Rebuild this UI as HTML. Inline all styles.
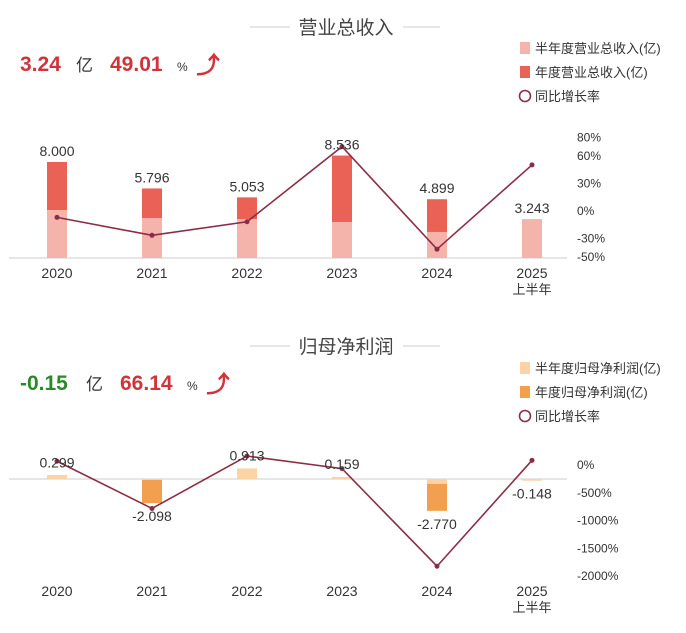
<!DOCTYPE html>
<html><head><meta charset="utf-8"><style>
body{margin:0;background:#fff;}
svg{display:block;font-family:"Liberation Sans","Noto Sans CJK SC",sans-serif;}
</style></head><body>
<svg id="svg" width="686" height="633" viewBox="0 0 686 633" xmlns="http://www.w3.org/2000/svg">
<g>
<line x1="250" y1="27" x2="290" y2="27" stroke="#ccc" stroke-width="1"/>
<line x1="403" y1="27" x2="440" y2="27" stroke="#ccc" stroke-width="1"/>
<text x="346" y="34" text-anchor="middle" font-size="19" fill="#444">营业总收入</text>
<text x="20" y="71" font-size="21" font-weight="bold" fill="#d0343a">3.24</text>
<text x="76" y="71" font-size="17" fill="#333">亿</text>
<text x="110" y="71" font-size="21" font-weight="bold" fill="#d0343a">49.01</text>
<text x="177" y="71" font-size="12" fill="#333">%</text>
<text x="196" y="73" font-size="24" font-weight="bold" fill="#d0343a">⤴</text>
<rect x="520" y="42" width="10" height="12" fill="#f4b3ab"/>
<text x="535" y="53" font-size="13" fill="#333">半年度营业总收入(亿)</text>
<rect x="520" y="66" width="10" height="12" fill="#ea6255"/>
<text x="535" y="77" font-size="13" fill="#333">年度营业总收入(亿)</text>
<circle cx="525" cy="96" r="5.5" fill="none" stroke="#8b2d45" stroke-width="1.6"/>
<text x="535" y="101" font-size="13" fill="#333">同比增长率</text>
</g>
<g>
<line x1="250" y1="346" x2="290" y2="346" stroke="#ccc" stroke-width="1"/>
<line x1="403" y1="346" x2="440" y2="346" stroke="#ccc" stroke-width="1"/>
<text x="346" y="353" text-anchor="middle" font-size="19" fill="#444">归母净利润</text>
<text x="20" y="390" font-size="21" font-weight="bold" fill="#2a8a2a">-0.15</text>
<text x="86" y="390" font-size="17" fill="#333">亿</text>
<text x="120" y="390" font-size="21" font-weight="bold" fill="#d0343a">66.14</text>
<text x="187" y="390" font-size="12" fill="#333">%</text>
<text x="206" y="392" font-size="24" font-weight="bold" fill="#d0343a">⤴</text>
<rect x="520" y="362" width="10" height="12" fill="#fbd3a6"/>
<text x="535" y="373" font-size="13" fill="#333">半年度归母净利润(亿)</text>
<rect x="520" y="386" width="10" height="12" fill="#f2a04f"/>
<text x="535" y="397" font-size="13" fill="#333">年度归母净利润(亿)</text>
<circle cx="525" cy="416" r="5.5" fill="none" stroke="#8b2d45" stroke-width="1.6"/>
<text x="535" y="421" font-size="13" fill="#333">同比增长率</text>
</g>
<g id="c1"></g>
<g id="c2"></g>
</svg>
<script>
const years = ["2020","2021","2022","2023","2024","2025"];
const revAnnual = [8.000,5.796,5.053,8.536,4.899,null];
const revHalf = [4.0,3.33,3.25,3.0,2.17,3.243];
const revLabels = ["8.000","5.796","5.053","8.536","4.899","3.243"];
const revYoy = [-8,-27.5,-12.8,68.9,-42.6,49.0];
const revTicks = [80,60,30,0,-30,-50];
const profAnnual = [0.299,-2.098,0.913,0.159,-2.770,null];
const profHalf = [0.35,-0.05,0.92,0.17,-0.43,-0.148];
const profLabels = ["0.299","-2.098","0.913","0.159","-2.770","-0.148"];
const profYoy = [50,-801,143,-83,-1842,66.14];
const profTicks = [0,-500,-1000,-1500,-2000];

const NS="http://www.w3.org/2000/svg";
function mk(tag,attrs,parent,txt){const e=document.createElementNS(NS,tag);for(const k in attrs)e.setAttribute(k,attrs[k]);if(txt!=null)e.textContent=txt;parent.appendChild(e);return e;}
const xc=i=>57+95*i;

function draw(g,cfg){
  mk('line',{x1:9,y1:cfg.base,x2:567,y2:cfg.base,stroke:'#ccc','stroke-width':1},g);
  cfg.ticks.forEach(t=>{
    const el=mk('text',{x:577,y:cfg.py(t)+5,'font-size':12,fill:'#333'},g,t+'%');
    
    
  });
  years.forEach((y,i)=>{
    const yt=mk('text',{x:xc(i),y:cfg.yearY,'text-anchor':'middle','font-size':14,fill:'#333'},g,y);
    
    
    if(i===5){const s=mk('text',{x:xc(i),y:cfg.yearY+16,'text-anchor':'middle','font-size':13,fill:'#333'},g,'上半年');
      
      }
    const bar=(v,col,nm)=>{if(v==null)return;const y0=cfg.by(v);const r=mk('rect',{x:xc(i)-10,y:Math.min(y0,cfg.base),width:20,height:Math.max(1,Math.abs(cfg.base-y0)),fill:col},g);
      
      };
    bar(cfg.annual[i],cfg.c2,'bar-annual-'+y);
    bar(cfg.half[i],cfg.c1,'bar-half-'+y);
  });
  const pts=cfg.yoy.map((v,i)=>xc(i)+','+cfg.py(v)).join(' ');
  const pl=mk('polyline',{points:pts,fill:'none',stroke:'#8b2d45','stroke-width':1.6},g);
  
  
  cfg.yoy.forEach((v,i)=>{const c=mk('circle',{cx:xc(i),cy:cfg.py(v),r:2.5,fill:'#8b2d45'},g);
    
    });
  cfg.labels.forEach((l,i)=>{
    const v=cfg.annual[i]!=null?cfg.annual[i]:cfg.half[i];
    const y=v>=0?cfg.by(v)-cfg.lo:cfg.by(v)+cfg.lb;
    const t=mk('text',{x:xc(i),y:y,'text-anchor':'middle','font-size':14,fill:'#333'},g,l);
    
    
  });
}
draw(document.getElementById('c1'),{base:258,by:v=>258-12*v,py:p=>210-0.92*p,ticks:revTicks,yearY:278,
  annual:revAnnual,half:revHalf,labels:revLabels,yoy:revYoy,c1:'#f4b3ab',c2:'#ea6255',lo:6,lb:16});
draw(document.getElementById('c2'),{base:479,by:v=>479-11.5*v,py:p=>464-0.0555*p,ticks:profTicks,yearY:596,
  annual:profAnnual,half:profHalf,labels:profLabels,yoy:profYoy,c1:'#fbd3a6',c2:'#f2a04f',lo:8,lb:18});
</script>
</body></html>
